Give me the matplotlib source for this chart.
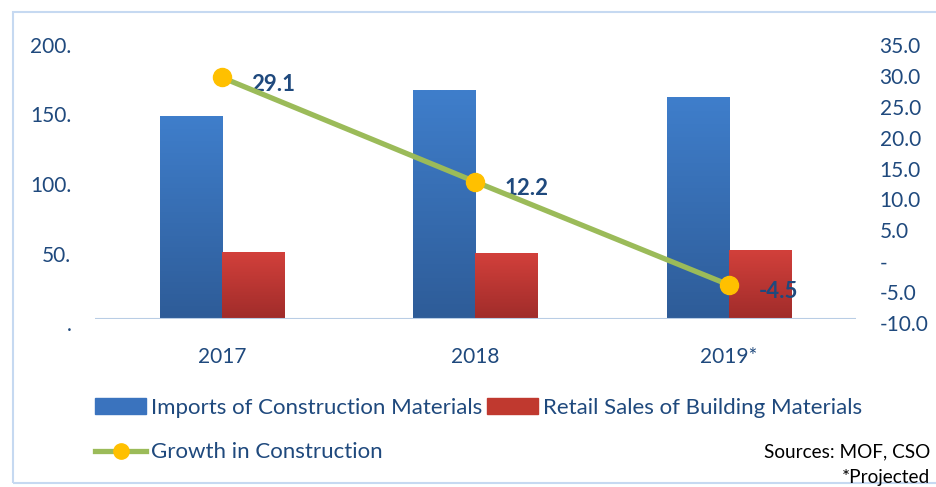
import matplotlib.pyplot as plt
import numpy as np
from matplotlib.colors import LinearSegmentedColormap
from matplotlib.lines import Line2D
from matplotlib.patches import Patch, Rectangle
from matplotlib.transforms import ScaledTranslation

plt.rcParams['font.family'] = ['Lato', 'DejaVu Sans']

# data
years = ["2017", "2018", "2019*"]
imports = [145.5, 164.5, 159.0]
retail = [48.0, 47.0, 49.0]
growth = [29.1, 12.2, -4.5]
growth_labels = ["29.1", "12.2", "-4.5"]

left_ticks = [0, 50, 100, 150, 200]
left_ticklabels = [".", "50.", "100.", "150.", "200."]
right_ticks = [-10, -5, 0, 5, 10, 15, 20, 25, 30, 35]
right_ticklabels = ["-10.0", "-5.0", "-", "5.0", "10.0", "15.0", "20.0", "25.0", "30.0", "35.0"]

txt = '#1F497D'
blue_cm = LinearSegmentedColormap.from_list('b', ['#2E5C98', '#3F7ECB'])
red_cm = LinearSegmentedColormap.from_list('r', ['#A02C2A', '#D2403B'])

fig = plt.figure(figsize=(9.37, 4.87), dpi=100)
ax = fig.add_axes([95/937, 168/487, 761/937, 278/487])

x = np.arange(len(years))
w = 0.245
b1 = ax.bar(x - w/2, imports, w, color='#3A73BE', zorder=2)
b2 = ax.bar(x + w/2, retail, w, color='#C0392F', zorder=2)

# vertical gradient fill on each bar
grad = np.linspace(0, 1, 100).reshape(-1, 1)
for bars, cm in ((b1, blue_cm), (b2, red_cm)):
    for p in bars:
        x0, y0 = p.get_x(), p.get_y()
        ax.imshow(grad, extent=[x0, x0 + p.get_width(), y0, y0 + p.get_height()],
                  origin='lower', aspect='auto', cmap=cm, zorder=2.5)

ax.set_xlim(-0.5, 2.5)
ax.set_ylim(0, 200)
ax.set_yticks(left_ticks)
ax.set_yticklabels(left_ticklabels)
ax.set_xticks(x)
ax.set_xticklabels(years)
for s in ax.spines.values():
    s.set_visible(False)
ax.axhline(0, color='#B9CDE5', lw=1.5, zorder=3)
ax.tick_params(axis='y', length=0, pad=17, labelsize=15, labelcolor=txt)
ax.tick_params(axis='x', length=0, pad=20, labelsize=15, labelcolor=txt)

ax2 = ax.twinx()
ax2.set_ylim(-10, 35)
ax2.set_yticks(right_ticks)
ax2.set_yticklabels(right_ticklabels)
ax2.tick_params(axis='y', length=0, pad=17, labelsize=15, labelcolor=txt)
for s in ax2.spines.values():
    s.set_visible(False)
ax2.plot(x, growth, color='#9BBB59', lw=3.8, marker='o', ms=13,
         mfc='#FFC000', mec='#FFC000', zorder=5)
for xi, g, lab in zip(x, growth, growth_labels):
    ax2.annotate(lab, (xi, g), xytext=(21, -5), textcoords='offset points',
                 ha='left', va='center', fontsize=16, fontweight='bold', color=txt)

# value labels sit a few pixels below their gridline in the reference
shift = ScaledTranslation(0, -4/100, fig.dpi_scale_trans)
for a in (ax, ax2):
    for lbl in a.get_yticklabels():
        lbl.set_transform(lbl.get_transform() + shift)

handles = [Patch(color='#3A73BE'),
           Line2D([], [], color='#9BBB59', lw=3.8, marker='o', ms=11,
                  mfc='#FFC000', mec='#FFC000'),
           Patch(color='#C0392F')]
labels = ["Imports of Construction Materials", "Growth in Construction",
          "Retail Sales of Building Materials"]
fig.legend(handles, labels, ncol=2, loc='upper left', bbox_to_anchor=(95/937, 1 - 398/487),
           frameon=False, fontsize=16, labelcolor=txt, borderpad=0, borderaxespad=0,
           handlelength=2.3, handletextpad=0.2, columnspacing=0.25, labelspacing=1.1)

fig.text(930/937, 1 - 452/487, "Sources: MOF, CSO", ha='right', va='center', fontsize=13.7, color='black')
fig.text(930/937, 1 - 478/487, "*Projected", ha='right', va='center', fontsize=13.7, color='black')

fig.add_artist(Rectangle((13/937, 4/487), 1.2, 1 - 16/487, transform=fig.transFigure,
                         fill=False, ec='#C6D9F1', lw=1.5))

fig.savefig('out.png', dpi=100)
